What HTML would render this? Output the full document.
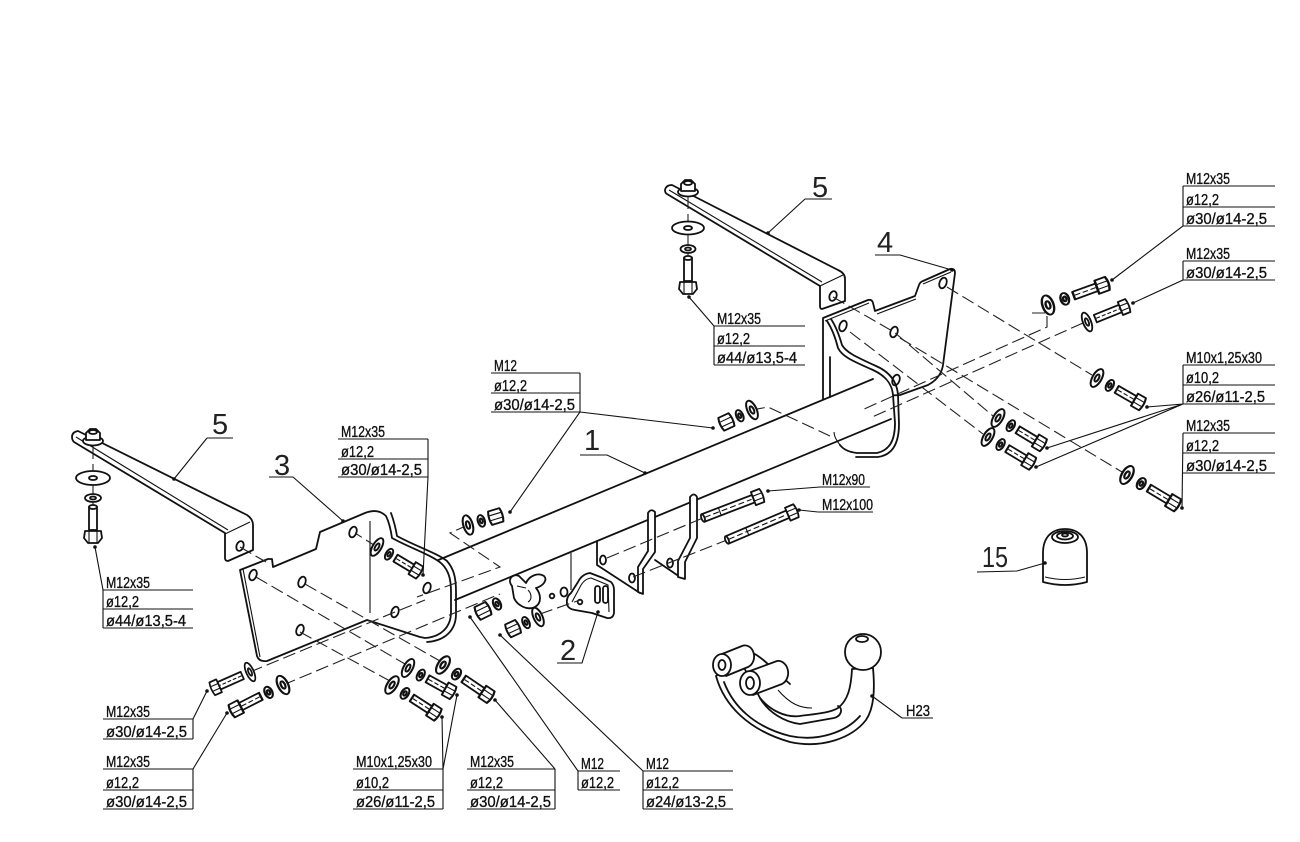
<!DOCTYPE html>
<html><head><meta charset="utf-8">
<style>
html,body{margin:0;padding:0;background:#fff;}
svg{display:block;}
text{font-family:"Liberation Sans",sans-serif;fill:#111;}
.t{font-size:16px;stroke:#111;stroke-width:0.35;}
.n{font-size:29px;fill:#222;}
.o{fill:none;stroke:#111;stroke-width:1.8;stroke-linejoin:round;stroke-linecap:round;}
.w{fill:#fff;stroke:#111;stroke-width:1.8;stroke-linejoin:round;}
.l{fill:none;stroke:#111;stroke-width:1.1;}
.d{fill:none;stroke:#222;stroke-width:1.1;stroke-dasharray:13 5;}
.k{fill:#111;}
</style></head><body>
<svg width="1300" height="842" viewBox="0 0 1300 842" xmlns="http://www.w3.org/2000/svg">
<defs>
<g id="bA">
 <ellipse cx="0" cy="0" rx="4" ry="10" class="w"/>
 <ellipse cx="0" cy="0" rx="1.6" ry="4" class="o"/>
 <ellipse cx="13" cy="0" rx="3" ry="6" class="w"/>
 <ellipse cx="13" cy="0" rx="1.2" ry="2.5" class="o"/>
 <path d="M20,-4 L38,-4 L38,4 L20,4 Z" class="w"/>
 <path d="M21,0 L37,0" class="l" stroke-dasharray="4 2"/>
 <path d="M38,-7 L46,-7 Q48,0 46,7 L38,7 Z" class="w"/>
 <path d="M38,-2.5 L46,-2.5 M38,2.5 L46,2.5" class="l"/>
</g>
<g id="bB">
 <ellipse cx="0" cy="0" rx="4" ry="10" class="w"/>
 <ellipse cx="0" cy="0" rx="1.6" ry="4" class="o"/>
 <path d="M9,-4 L36,-4 L36,4 L9,4 Z" class="w"/>
 <path d="M10,0 L35,0" class="l" stroke-dasharray="4 2"/>
 <path d="M36,-7 L44,-7 Q46,0 44,7 L36,7 Z" class="w"/>
 <path d="M36,-2.5 L44,-2.5 M36,2.5 L44,2.5" class="l"/>
</g>
<g id="nA">
 <ellipse cx="0" cy="0" rx="4" ry="10" class="w"/>
 <ellipse cx="0" cy="0" rx="1.6" ry="4" class="o"/>
 <ellipse cx="12" cy="0" rx="3" ry="6" class="w"/>
 <ellipse cx="12" cy="0" rx="1.2" ry="2.5" class="o"/>
 <path d="M20,-7 L30,-7 Q32,0 30,7 L20,7 Q18,0 20,-7 Z" class="w"/>
 <path d="M20,-2.5 L30,-2.5 M20,2.5 L30,2.5" class="l"/>
</g>
<g id="nB">
 <ellipse cx="0" cy="0" rx="3" ry="6" class="w"/>
 <ellipse cx="0" cy="0" rx="1.2" ry="2.5" class="o"/>
 <path d="M8,-7 L18,-7 Q20,0 18,7 L8,7 Q6,0 8,-7 Z" class="w"/>
 <path d="M8,-2.5 L18,-2.5 M8,2.5 L18,2.5" class="l"/>
</g>
</defs>

<!-- ===== Bracket 4 back plate ===== -->
<path class="w" d="M823,318 L868,300 Q872,299 873,303 L875,311 L915,296 L919,285 Q920,282 923,281 L950,269 Q955,268 955,273 L943,365 Q941,378 928,385 L900,395 L823,400 Z"/>
<path class="l" d="M825,321 L869,303 M877,314 L916,299 M923,284 L951,272"/>
<ellipse cx="943" cy="283" rx="3.5" ry="5.5" class="o" transform="rotate(20 943 283)"/>
<ellipse cx="894" cy="332" rx="3.5" ry="5.5" class="o" transform="rotate(20 894 332)"/>
<ellipse cx="843" cy="326" rx="3.5" ry="5.5" class="o" transform="rotate(20 843 326)"/>
<ellipse cx="896" cy="380" rx="3.5" ry="5.5" class="o" transform="rotate(20 896 380)"/>

<!-- ===== Top bracket 5 ===== -->
<path class="w" d="M665,190 Q666,185 672,185 L838,270 Q845,273 845,279 L845,301 L822,309 Q820,309 820,306 L820,286 L667,194 Q665,193 665,190 Z"/>
<path class="l" d="M669,190 L822,282 M820,286 L843,275"/>
<ellipse cx="833" cy="296" rx="3.5" ry="5" class="o" transform="rotate(20 833 296)"/>

<!-- ===== Main tube ===== -->
<path d="M436,561 L873,379 L893,395 L893,419 L455,600 Z" fill="#fff" stroke="none"/>
<path class="o" d="M436,561 L873,379 M455,600 L891,419"/>

<!-- bracket 4 cradle (open double curve) -->
<path class="o" d="M830,357 L830,397"/>
<path class="o" d="M827,321 C833,330 836,340 838,348 C842,356 850,360 873,370 C886,376 892,384 893,395 L895,423 C895,440 890,450 877,453 L857,453 C848,452 843,449 840,445"/>
<path class="o" d="M831,319 C837,328 840,338 842,345 C846,352 854,356 876,366 C890,372 897,382 898,395 L899,424 C899,443 893,455 878,457 L856,457"/>
<path class="l" d="M840,445 C836,440 834,436 834,432"/>

<!-- ===== Left bracket 5 ===== -->
<path class="w" d="M72,437 Q72,432 78,431 L247,515 Q253,519 253,525 L253,550 L228,561 Q225,561 225,558 L225,533 L74,442 Q72,440 72,437 Z"/>
<path class="l" d="M76,437 L228,530 M225,534 L250,522"/>
<ellipse cx="240" cy="546" rx="3.5" ry="5" class="o" transform="rotate(20 240 546)"/>

<!-- ===== Plate 3 ===== -->
<path class="w" d="M240,570 L268,559 L272,559 L273,567 L316,549 L320,532 L365,513 Q378,508 386,516 Q390,524 392,538 C410,548 432,555 442,564 C449,571 451,580 451,592 L451,612 C451,628 440,637 425,638 L420,637 L367,620 L267,661 Q259,662 257,656 Z"/>
<path class="o" d="M391,513 Q395,524 397,536 C415,546 437,553 447,561 C454,569 456,578 456,592 L456,614 C456,631 444,641 427,642"/>
<path class="l" d="M243,569 L260,657 M370,521 L370,613"/>
<ellipse cx="253" cy="575" rx="3.5" ry="5.5" class="o" transform="rotate(20 253 575)"/>
<ellipse cx="302" cy="582" rx="3.5" ry="5.5" class="o" transform="rotate(20 302 582)"/>
<ellipse cx="353" cy="532" rx="3.5" ry="5.5" class="o" transform="rotate(20 353 532)"/>
<ellipse cx="300" cy="630" rx="3.5" ry="5.5" class="o" transform="rotate(20 300 630)"/>
<ellipse cx="427" cy="588" rx="3.5" ry="5.5" class="o" transform="rotate(20 427 588)"/>
<ellipse cx="395" cy="612" rx="3.5" ry="5.5" class="o" transform="rotate(20 395 612)"/>

<!-- ===== Central mounting plate ===== -->
<path class="o" d="M597,541 L597,565 L640,593"/>
<path class="o" d="M655,560 L680,577"/>
<path class="w" d="M638,592 L638,567 L648,551 L648,513 Q651,508 655,512 L655,552 L643,569 L643,594 Z"/>
<path class="w" d="M678,577 L678,561 L690,538 L690,497 Q694,492 697,497 L697,538 L685,562 L685,579 Z"/>
<ellipse cx="603" cy="560" rx="3" ry="4.5" class="o"/>
<ellipse cx="632" cy="578" rx="3" ry="4.5" class="o"/>
<ellipse cx="670" cy="563" rx="3" ry="4.5" class="o"/>
<path class="l" d="M571,553 L571,590"/>

<!-- plate 2 -->
<path class="w" d="M567,604 Q566,597 571,593 L578,582 Q582,574 590,573 L603,578 L611,582 Q614,585 614,590 L614,613 Q613,619 607,618 L592,613 L575,610 Q568,609 567,604 Z"/>
<path class="l" d="M572,602 L580,587 Q584,579 591,578 L608,585 L609,612"/>
<rect x="595" y="586" width="5" height="17" rx="2.5" class="o"/>
<rect x="603" y="586" width="5" height="17" rx="2.5" class="o"/>
<circle cx="580" cy="602" r="2.3" class="o"/>
<ellipse cx="564" cy="592" rx="3.5" ry="4.5" class="w"/>
<circle cx="552" cy="596" r="2.3" class="o"/>

<!-- C piece -->
<path class="w" d="M512,586 C507,580 512,573 519,576 L526,583 C529,576 538,572 544,576 C548,580 543,586 536,588 C541,594 542,603 535,607 C527,611 517,605 514,598 Z"/>
<path class="l" d="M517,586 L526,588 M528,590 C532,594 532,600 528,602"/>

<!-- ===== Dashed lines ===== -->
<path class="d" d="M240,547 L266,562"/>
<path class="d" d="M256,577 L405,664"/>
<path class="d" d="M305,584 L440,661"/>
<path class="d" d="M300,632 L390,681"/>
<path class="d" d="M250,672 L395,612 L425,600"/>
<path class="d" d="M283,685 L452,614 L500,594"/>
<path class="d" d="M468,525 L450,533 L500,567 L417,597"/>
<path class="d" d="M377,547 L355,533"/>
<path class="d" d="M540,614 L580,600"/>
<path class="d" d="M607,558 L703,518"/>
<path class="d" d="M633,577 L727,540"/>
<path class="d" d="M752,410 L768,407 L830,436"/>
<path class="d" d="M947,287 L1092,375"/>
<path class="d" d="M833,297 L894,332 L993,416"/>
<path class="d" d="M850,332 L983,434"/>
<path class="d" d="M900,338 L1122,472"/>
<path class="d" d="M1032,313 L1047,313 L1047,327 L862,410"/>
<path class="d" d="M1083,323 L870,418"/>

<!-- ===== Vertical bolt stacks ===== -->
<g>
 <path class="d" d="M93,446 L93,506"/>
 <ellipse cx="93" cy="441" rx="10" ry="4.5" class="w"/>
 <path class="w" d="M86,440 L86,433 L90,429 L96,429 L100,433 L100,440 Z"/>
 <ellipse cx="93" cy="432" rx="4" ry="2" class="o"/>
 <ellipse cx="93" cy="478" rx="17" ry="7" class="w"/>
 <ellipse cx="93" cy="478" rx="4" ry="2" class="o"/>
 <ellipse cx="93" cy="498" rx="8" ry="4" class="w"/>
 <ellipse cx="93" cy="498" rx="3" ry="1.5" class="o"/>
 <rect x="89" y="507" width="8" height="23" class="w"/>
 <ellipse cx="93" cy="507" rx="4" ry="2" class="w"/>
 <path class="w" d="M85,531 L101,531 L102,538 L98,543 L88,543 L84,538 Z"/>
 <path class="l" d="M89,531 L89,543 M97,531 L97,543"/>
</g>
<g>
 <path class="d" d="M688,196 L688,258"/>
 <ellipse cx="688" cy="192" rx="10" ry="4.5" class="w"/>
 <path class="w" d="M681,191 L681,184 L685,180 L691,180 L695,184 L695,191 Z"/>
 <ellipse cx="688" cy="183" rx="4" ry="2" class="o"/>
 <ellipse cx="688" cy="228" rx="16" ry="6.5" class="w"/>
 <ellipse cx="688" cy="228" rx="4" ry="2" class="o"/>
 <ellipse cx="688" cy="249" rx="7.5" ry="4" class="w"/>
 <ellipse cx="688" cy="249" rx="3" ry="1.5" class="o"/>
 <rect x="684" y="258" width="8" height="23" class="w"/>
 <ellipse cx="688" cy="258" rx="4" ry="2" class="w"/>
 <path class="w" d="M680,282 L696,282 L697,289 L693,294 L683,294 L679,289 Z"/>
 <path class="l" d="M684,282 L684,294 M692,282 L692,294"/>
</g>

<!-- ===== Angled bolts ===== -->
<use href="#bA" transform="translate(1048,305) rotate(-20) scale(1.37,1)"/>
<use href="#bB" transform="translate(1087,322) rotate(-22) scale(1.0,1)"/>
<use href="#bA" transform="translate(1097,378) rotate(30) scale(1.14,1)"/>
<use href="#bA" transform="translate(998,418) rotate(31) scale(1.15,1)"/>
<use href="#bA" transform="translate(988,437) rotate(31) scale(1.13,1)"/>
<use href="#bA" transform="translate(1127,475) rotate(31) scale(1.28,1)"/>
<use href="#bB" transform="translate(250,672) rotate(156) scale(0.94,1)"/>
<use href="#bA" transform="translate(283,685) rotate(153) scale(1.25,1)"/>
<use href="#bA" transform="translate(408,668) rotate(29) scale(1.12,1)"/>
<use href="#bA" transform="translate(392,685) rotate(33) scale(1.19,1)"/>
<use href="#bA" transform="translate(443,665) rotate(34) scale(1.25,1)"/>
<use href="#bA" transform="translate(377,547) rotate(31) scale(1.08,1)"/>
<use href="#nA" transform="translate(468,525) rotate(-17) scale(1.16,1)"/>
<use href="#nA" transform="translate(752,410) rotate(155) scale(1.13,1)"/>
<use href="#nA" transform="translate(538,617) rotate(155) scale(1.1,1)"/>
<use href="#nB" transform="translate(497,604) rotate(154) scale(1.2,1)"/>

<!-- M12x90 / M12x100 -->
<g transform="translate(703,518) rotate(-21)">
 <path class="w" d="M0,-4 L54,-4 L54,4 L0,4 Z"/>
 <ellipse cx="0" cy="0" rx="1.6" ry="4" class="w"/>
 <path class="l" d="M2,0 L52,0" stroke-dasharray="6 3"/>
 <path class="l" d="M18,-4 L18,4"/>
 <path class="w" d="M54,-7 L63,-7 Q65,0 63,7 L54,7 Z"/>
 <path class="l" d="M54,-2.5 L63,-2.5 M54,2.5 L63,2.5"/>
</g>
<g transform="translate(727,540) rotate(-23)">
 <path class="w" d="M0,-4 L66,-4 L66,4 L0,4 Z"/>
 <ellipse cx="0" cy="0" rx="1.6" ry="4" class="w"/>
 <path class="l" d="M2,0 L64,0" stroke-dasharray="6 3"/>
 <path class="l" d="M22,-4 L22,4"/>
 <path class="w" d="M66,-7 L75,-7 Q77,0 75,7 L66,7 Z"/>
 <path class="l" d="M66,-2.5 L75,-2.5 M66,2.5 L75,2.5"/>
</g>

<!-- ===== Cap 15 ===== -->
<path d="M1043,582 L1043,553 C1043,537 1052,529 1065,529 C1078,529 1087,537 1087,553 L1087,582 Q1065,588 1043,582 Z" class="w"/>
<ellipse cx="1065" cy="537" rx="13" ry="6" class="o"/>
<ellipse cx="1065" cy="536" rx="8" ry="3.5" class="o"/>
<ellipse cx="1065" cy="535" rx="3" ry="1.5" class="o"/>
<path class="l" d="M1045,577 Q1065,582 1085,577"/>

<!-- ===== Hitch H23 ===== -->
<path class="w" d="M716,676 C724,705 748,730 790,742 C822,749 852,738 866,720 C874,708 875,690 873,668 L852,669 C851,688 848,700 838,708 C830,713 815,714 800,716 C785,718 770,710 760,698 L740,660 Z"/>
<path class="o" d="M724,682 C733,706 754,727 790,736 C818,742 846,732 860,716"/>
<path class="o" d="M760,698 C768,712 784,722 800,724 L834,718 C842,716 843,708 838,706"/>
<path class="o" d="M738,648 C752,650 762,658 772,668 L790,684"/>
<path class="l" d="M778,690 C790,704 800,708 812,708"/>
<path class="w" d="M722,654 L742,646 A9,11 0 0 1 748,667 L726,676 Z"/>
<ellipse cx="722" cy="665" rx="9" ry="11" class="w"/>
<ellipse cx="722" cy="665" rx="3.5" ry="5" class="o"/>
<path class="w" d="M750,671 L777,661 A10,12 0 0 1 782,684 L753,695 Z"/>
<ellipse cx="750" cy="683" rx="10" ry="12" class="w"/>
<ellipse cx="750" cy="683" rx="4" ry="6" class="o"/>
<circle cx="863" cy="652" r="18" class="w"/>
<ellipse cx="862" cy="639" rx="6" ry="3" class="o"/>

<!-- ===== Labels / tables ===== -->
<g class="l">
 <path d="M1183,186 L1275,186 M1183,207 L1275,207 M1183,226 L1275,226 M1183,186 L1183,226 L1112,280"/>
 <path d="M1183,261 L1275,261 M1183,280 L1275,280 M1183,261 L1183,280 L1133,303"/>
 <path d="M1183,365 L1275,365 M1183,385 L1275,385 M1183,404 L1275,404 M1183,365 L1183,404 L1147,407 M1183,404 L1047,448 M1183,404 L1036,467"/>
 <path d="M1183,433 L1275,433 M1183,453 L1275,453 M1183,473 L1275,473 M1183,433 L1182,508"/>
 <path d="M714,326 L805,326 M714,346 L805,346 M714,365 L805,365 M714,326 L714,365 M714,326 L689,297"/>
 <path d="M103,590 L193,590 M103,609 L193,609 M103,628 L193,628 M103,590 L103,628 M103,590 L95,547"/>
 <path d="M338,439 L428,439 M338,459 L428,459 M338,477 L428,477 M428,439 L428,477 L423,575"/>
 <path d="M491,373 L580,373 M491,393 L580,393 M491,412 L580,412 M580,373 L580,412 L510,512 M580,412 L713,428"/>
 <path d="M103,719 L193,719 M103,739 L193,739 M193,719 L193,739 M193,719 L207,691"/>
 <path d="M103,769 L193,769 M103,790 L193,790 M103,809 L193,809 M193,769 L193,809 M193,769 L227,713"/>
 <path d="M353,769 L443,769 M353,790 L443,790 M353,809 L443,809 M443,769 L443,809 M443,769 L442,717 M443,769 L457,695"/>
 <path d="M467,769 L555,769 M467,790 L555,790 M467,809 L555,809 M555,769 L555,809 M555,769 L495,700"/>
 <path d="M578,771 L620,771 M578,790 L620,790 M578,771 L578,790 M578,771 L470,617"/>
 <path d="M643,771 L733,771 M643,790 L733,790 M643,809 L733,809 M643,771 L643,809 M643,771 L500,635"/>
 <path d="M820,487 L870,487 M820,487 L768,491"/>
 <path d="M818,512 L873,512 M818,512 L799,510"/>
 <path d="M902,718 L933,718 M902,718 L872,696"/>
 <path d="M207,438 L233,438 M207,438 L174,479"/>
 <path d="M269,477 L293,477 L343,521"/>
 <path d="M805,199 L832,199 M805,199 L768,233"/>
 <path d="M875,255 L900,255 L952,270"/>
 <path d="M580,455 L607,455 L645,473"/>
 <path d="M557,663 L582,663 L598,612"/>
 <path d="M977,572 L1017,571 L1045,563"/>
</g>

<g class="k">
 <circle cx="1112" cy="280" r="1.8"/><circle cx="1133" cy="303" r="1.8"/>
 <circle cx="1147" cy="407" r="1.8"/><circle cx="1047" cy="448" r="1.8"/><circle cx="1036" cy="467" r="1.8"/>
 <circle cx="1182" cy="508" r="1.8"/><circle cx="689" cy="297" r="1.8"/><circle cx="95" cy="547" r="1.8"/>
 <circle cx="423" cy="575" r="1.8"/><circle cx="510" cy="512" r="1.8"/><circle cx="713" cy="428" r="1.8"/>
 <circle cx="207" cy="691" r="1.8"/><circle cx="227" cy="713" r="1.8"/><circle cx="442" cy="717" r="1.8"/>
 <circle cx="457" cy="695" r="1.8"/><circle cx="495" cy="700" r="1.8"/><circle cx="470" cy="617" r="1.8"/>
 <circle cx="500" cy="635" r="1.8"/><circle cx="768" cy="491" r="1.8"/><circle cx="799" cy="510" r="1.8"/>
 <circle cx="872" cy="696" r="1.8"/><circle cx="174" cy="479" r="1.8"/><circle cx="343" cy="521" r="1.8"/>
 <circle cx="768" cy="233" r="1.8"/><circle cx="952" cy="270" r="1.8"/><circle cx="645" cy="473" r="1.8"/>
 <circle cx="598" cy="612" r="1.8"/><circle cx="1045" cy="563" r="1.8"/>
</g>

<g class="t">
 <text x="1186" y="184" textLength="44" lengthAdjust="spacingAndGlyphs">M12x35</text>
 <text x="1186" y="205" textLength="33" lengthAdjust="spacingAndGlyphs">ø12,2</text>
 <text x="1186" y="224" textLength="81" lengthAdjust="spacingAndGlyphs">ø30/ø14-2,5</text>

 <text x="1186" y="259" textLength="44" lengthAdjust="spacingAndGlyphs">M12x35</text>
 <text x="1186" y="278" textLength="81" lengthAdjust="spacingAndGlyphs">ø30/ø14-2,5</text>

 <text x="1186" y="363" textLength="76" lengthAdjust="spacingAndGlyphs">M10x1,25x30</text>
 <text x="1186" y="383" textLength="33" lengthAdjust="spacingAndGlyphs">ø10,2</text>
 <text x="1186" y="402" textLength="79" lengthAdjust="spacingAndGlyphs">ø26/ø11-2,5</text>

 <text x="1186" y="431" textLength="44" lengthAdjust="spacingAndGlyphs">M12x35</text>
 <text x="1186" y="451" textLength="33" lengthAdjust="spacingAndGlyphs">ø12,2</text>
 <text x="1186" y="471" textLength="81" lengthAdjust="spacingAndGlyphs">ø30/ø14-2,5</text>

 <text x="717" y="324" textLength="44" lengthAdjust="spacingAndGlyphs">M12x35</text>
 <text x="717" y="344" textLength="33" lengthAdjust="spacingAndGlyphs">ø12,2</text>
 <text x="717" y="363" textLength="80" lengthAdjust="spacingAndGlyphs">ø44/ø13,5-4</text>

 <text x="106" y="588" textLength="44" lengthAdjust="spacingAndGlyphs">M12x35</text>
 <text x="106" y="607" textLength="33" lengthAdjust="spacingAndGlyphs">ø12,2</text>
 <text x="106" y="626" textLength="80" lengthAdjust="spacingAndGlyphs">ø44/ø13,5-4</text>

 <text x="341" y="437" textLength="44" lengthAdjust="spacingAndGlyphs">M12x35</text>
 <text x="341" y="457" textLength="33" lengthAdjust="spacingAndGlyphs">ø12,2</text>
 <text x="341" y="475" textLength="81" lengthAdjust="spacingAndGlyphs">ø30/ø14-2,5</text>

 <text x="494" y="371" textLength="23" lengthAdjust="spacingAndGlyphs">M12</text>
 <text x="494" y="391" textLength="33" lengthAdjust="spacingAndGlyphs">ø12,2</text>
 <text x="494" y="410" textLength="81" lengthAdjust="spacingAndGlyphs">ø30/ø14-2,5</text>

 <text x="106" y="717" textLength="44" lengthAdjust="spacingAndGlyphs">M12x35</text>
 <text x="106" y="737" textLength="81" lengthAdjust="spacingAndGlyphs">ø30/ø14-2,5</text>

 <text x="106" y="767" textLength="44" lengthAdjust="spacingAndGlyphs">M12x35</text>
 <text x="106" y="788" textLength="33" lengthAdjust="spacingAndGlyphs">ø12,2</text>
 <text x="106" y="807" textLength="81" lengthAdjust="spacingAndGlyphs">ø30/ø14-2,5</text>

 <text x="356" y="767" textLength="76" lengthAdjust="spacingAndGlyphs">M10x1,25x30</text>
 <text x="356" y="788" textLength="33" lengthAdjust="spacingAndGlyphs">ø10,2</text>
 <text x="356" y="807" textLength="79" lengthAdjust="spacingAndGlyphs">ø26/ø11-2,5</text>

 <text x="470" y="767" textLength="44" lengthAdjust="spacingAndGlyphs">M12x35</text>
 <text x="470" y="788" textLength="33" lengthAdjust="spacingAndGlyphs">ø12,2</text>
 <text x="470" y="807" textLength="81" lengthAdjust="spacingAndGlyphs">ø30/ø14-2,5</text>

 <text x="581" y="769" textLength="23" lengthAdjust="spacingAndGlyphs">M12</text>
 <text x="581" y="788" textLength="33" lengthAdjust="spacingAndGlyphs">ø12,2</text>

 <text x="646" y="769" textLength="23" lengthAdjust="spacingAndGlyphs">M12</text>
 <text x="646" y="788" textLength="33" lengthAdjust="spacingAndGlyphs">ø12,2</text>
 <text x="646" y="807" textLength="80" lengthAdjust="spacingAndGlyphs">ø24/ø13-2,5</text>

 <text x="822" y="485" textLength="43" lengthAdjust="spacingAndGlyphs">M12x90</text>
 <text x="822" y="510" textLength="51" lengthAdjust="spacingAndGlyphs">M12x100</text>
 <text x="906" y="716" textLength="24" lengthAdjust="spacingAndGlyphs">H23</text>
</g>

<text class="n" x="212" y="434">5</text>
<text class="n" x="274" y="475">3</text>
<text class="n" x="812" y="197">5</text>
<text class="n" x="877" y="252">4</text>
<text class="n" x="584" y="450">1</text>
<text class="n" x="560" y="660">2</text>
<text class="n" x="982" y="567" textLength="26" lengthAdjust="spacingAndGlyphs">15</text>
</svg>
</body></html>
